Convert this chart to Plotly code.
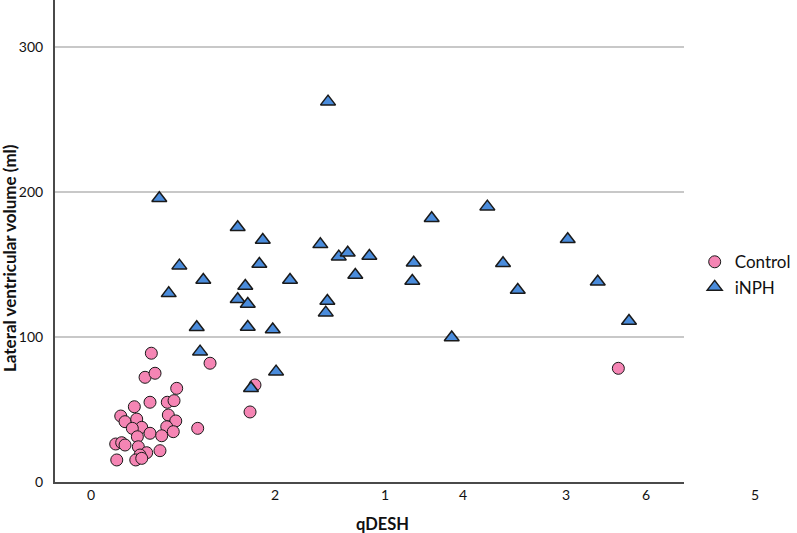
import plotly.graph_objects as go

# qDESH (x, axis units) and lateral ventricular volume (ml)
control_x = [0.698, 1.316, 0.632, 0.737, 0.965, 0.684, 0.866, 0.937, 0.519, 0.376,
             0.421, 0.544, 0.877, 0.955, 0.597, 0.498, 0.684, 0.860, 0.929, 1.186,
             0.807, 0.551, 0.323, 0.386, 0.421, 0.561, 0.649, 0.789, 0.579, 0.334,
             0.534, 0.597, 1.789, 1.737, 5.614]
control_y = [88.8, 81.9, 72.2, 75.0, 64.6, 55.0, 55.0, 56.1, 51.9, 45.5,
             41.6, 43.4, 46.2, 42.1, 37.7, 37.0, 33.6, 38.1, 34.7, 37.0,
             31.9, 31.2, 26.2, 27.1, 25.5, 24.3, 20.2, 21.6, 18.6, 15.2,
             15.2, 16.3, 66.9, 48.3, 78.4]

inph_x = [2.558, 3.649, 4.235, 2.477, 2.671, 2.765, 2.993, 3.460, 4.400, 5.081,
          2.158, 2.845, 3.445, 4.555, 5.397, 2.551, 2.534, 5.726, 3.860, 0.782,
          1.607, 1.871, 0.993, 1.835, 1.245, 1.687, 0.881, 1.607, 1.713, 1.176,
          1.713, 1.976, 1.211, 2.011, 1.747]
inph_y = [262.3, 181.9, 189.9, 163.9, 155.4, 158.1, 155.9, 151.2, 150.8, 167.4,
          139.3, 142.8, 138.6, 132.4, 138.1, 124.8, 116.8, 111.0, 99.7, 195.7,
          175.7, 166.9, 149.2, 150.3, 139.3, 135.2, 130.1, 126.0, 122.8, 106.7,
          106.9, 105.2, 89.9, 76.1, 64.6]

x_tick_labels = ["0", "2", "1", "4", "3", "6", "5"]
x_tick_pos = [0.0, 2.0, 3.158, 3.979, 5.126, 5.968, 7.116]
y_tick_vals = [0, 100, 200, 300]

FONT = "Lato"
X_RANGE = [-0.316, 6.305]

fig = go.Figure()
fig.add_trace(go.Scatter(
    x=control_x, y=control_y, mode="markers", name="Control",
    marker=dict(symbol="circle", size=12, color="#F585B4",
                line=dict(color="#1a1a1a", width=1)),
))
fig.add_trace(go.Scatter(
    x=inph_x, y=inph_y, mode="markers", name="iNPH",
    marker=dict(symbol="triangle-up", size=13, color="#4A8CDC",
                line=dict(color="#1a1a1a", width=1.5)),
))

annotations = []
span = X_RANGE[1] - X_RANGE[0]
for lab, pos in zip(x_tick_labels, x_tick_pos):
    annotations.append(dict(x=(pos - X_RANGE[0]) / span, y=(482 - 495) / 482,
                            xref="paper", yref="paper", yanchor="middle",
                            text=lab, showarrow=False,
                            font=dict(family=FONT, size=14, color="#111")))

annotations.append(dict(x=(382 - 55) / 629, y=(482 - 524) / 482, xref="paper", yref="paper",
                        text="<b>qDESH</b>", showarrow=False, yanchor="middle",
                        font=dict(family=FONT, size=16.5, color="#111")))
annotations.append(dict(x=(9 - 55) / 629, y=(482 - 258) / 482, xref="paper", yref="paper",
                        text="<b>Lateral ventricular volume (ml)</b>", showarrow=False,
                        textangle=-90, xanchor="center", yanchor="middle",
                        font=dict(family=FONT, size=17, color="#111")))

fig.update_layout(
    width=797, height=533,
    margin=dict(l=55, r=113, t=0, b=51, autoexpand=False),
    plot_bgcolor="white", paper_bgcolor="white",
    font=dict(family=FONT, size=14, color="#111"),
    showlegend=True,
    legend=dict(x=1.017, xanchor="left", y=0.43, yanchor="middle",
                font=dict(family=FONT, size=17, color="#111"),
                itemwidth=30, bgcolor="rgba(0,0,0,0)"),
    annotations=annotations,
    xaxis=dict(range=X_RANGE, showgrid=False, zeroline=False,
               showticklabels=False, showline=True, linecolor="#4a4a4a", linewidth=2,
               ticks=""),
    yaxis=dict(range=[0, 332.4], tickvals=y_tick_vals, showgrid=True,
               gridcolor="#c8c8c8", gridwidth=1.5, zeroline=False,
               showline=True, linecolor="#4a4a4a", linewidth=2, ticks="",
               ticklabelstandoff=7, tickfont=dict(family=FONT, size=14, color="#111")),
)

fig.write_html("out.html")
